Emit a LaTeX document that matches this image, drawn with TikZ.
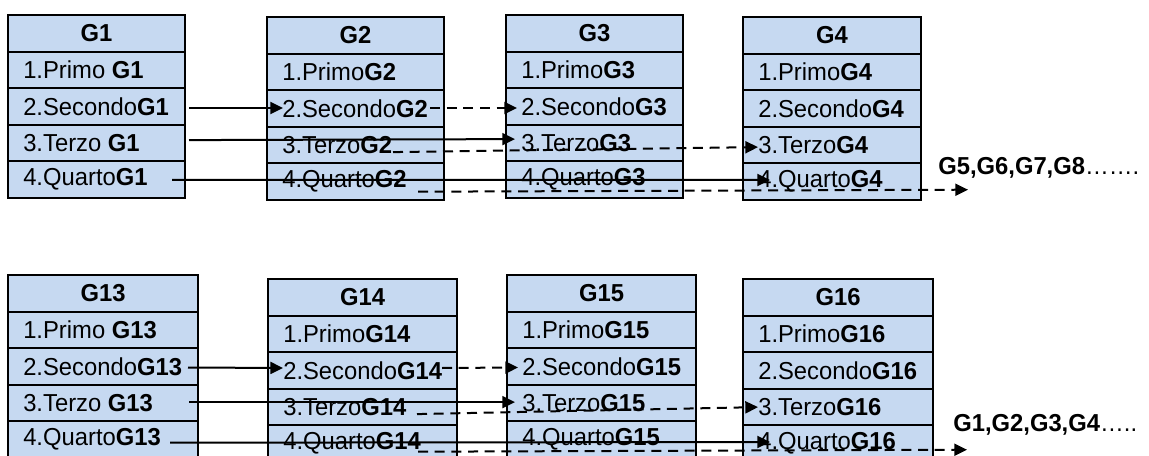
\documentclass[tikz,border=0pt]{standalone}
\usepackage{fontspec}
\setmainfont[FakeStretch=0.97]{Liberation Sans}
\usetikzlibrary{calc,arrows.meta}
\definecolor{cellblue}{HTML}{C6D9F1}
\newcommand\cellfont{\fontsize{18.4pt}{20pt}\selectfont}
\newcommand\gbox[9]{%
  \node[cell, minimum width=#4*0.75pt, anchor=north west] (#1h) at (#2,#3) {};
  \node[cell, minimum width=#4*0.75pt, anchor=north west] (#1r1) at (#1h.south west) {};
  \node[cell, minimum width=#4*0.75pt, anchor=north west] (#1r2) at (#1r1.south west) {};
  \node[cell, minimum width=#4*0.75pt, anchor=north west] (#1r3) at (#1r2.south west) {};
  \node[cell, minimum width=#4*0.75pt, anchor=north west] (#1r4) at (#1r3.south west) {};
  \node[celltext] (#1ht) at (#1h.center) {\textbf{#5}};
  \node[celltext, anchor=west] (#1t1) at ($(#1r1.west)+(15,0)$) {#6};
  \node[celltext, anchor=west] (#1t2) at ($(#1r2.west)+(15,0)$) {#7};
  \node[celltext, anchor=west] (#1t3) at ($(#1r3.west)+(15,0)$) {#8};
  \node[celltext, anchor=west] (#1t4) at ($(#1r4.west)+(15,0)$) {#9};
}
\begin{document}
\begin{tikzpicture}[x=0.75pt, y=-0.75pt,
  cell/.style={draw=black, fill=cellblue, line width=1.5pt, minimum height=27.45pt, inner sep=0pt, outer sep=0pt},
  celltext/.style={font=\cellfont, inner sep=0pt, text=black},
  sol/.style={line width=1.5pt, -{Triangle[length=9.5pt, width=9pt]}},
  dsh/.style={line width=1.5pt, dash pattern=on 7.5pt off 5pt, -{Triangle[length=9.5pt, width=9pt]}},
  lbl/.style={font=\cellfont, inner sep=0pt, anchor=west}]
\clip (0,0) rectangle (1149,456);
\fill[white] (0,0) rectangle (1149,456);
% top row
\gbox{g1}{8}{15}{177}{G1}{1.Primo \textbf{G1}}{2.Secondo\textbf{G1}}{3.Terzo \textbf{G1}}{4.Quarto\textbf{G1}}
\gbox{g2}{267}{17}{177}{G2}{1.Primo\textbf{G2}}{2.Secondo\textbf{G2}}{3.Terzo\textbf{G2}}{4.Quarto\textbf{G2}}
\gbox{g3}{506}{15}{177}{G3}{1.Primo\textbf{G3}}{2.Secondo\textbf{G3}}{3.Terzo\textbf{G3}}{4.Quarto\textbf{G3}}
\gbox{g4}{743}{17}{178}{G4}{1.Primo\textbf{G4}}{2.Secondo\textbf{G4}}{3.Terzo\textbf{G4}}{4.Quarto\textbf{G4}}
% bottom row
\gbox{g13}{8}{275}{190}{G13}{1.Primo \textbf{G13}}{2.Secondo\textbf{G13}}{3.Terzo \textbf{G13}}{4.Quarto\textbf{G13}}
\gbox{g14}{268}{279}{189}{G14}{1.Primo\textbf{G14}}{2.Secondo\textbf{G14}}{3.Terzo\textbf{G14}}{4.Quarto\textbf{G14}}
\gbox{g15}{507}{275}{189}{G15}{1.Primo\textbf{G15}}{2.Secondo\textbf{G15}}{3.Terzo\textbf{G15}}{4.Quarto\textbf{G15}}
\gbox{g16}{743}{279}{190}{G16}{1.Primo\textbf{G16}}{2.Secondo\textbf{G16}}{3.Terzo\textbf{G16}}{4.Quarto\textbf{G16}}
% labels
\node[lbl] (more1) at (938,168) {\textbf{G5,G6,G7,G8}…….};
\node[lbl] (more2) at (953,425) {\textbf{G1,G2,G3,G4}…..};
% top arrows
\draw[sol] ($(g1r2.east)+(4,1.5)$) -- ($(g2r2.west)+(16,-0.5)$);
\draw[dsh] ($(g2r2.east)+(-14,-0.5)$) -- ($(g3r2.west)+(11,1.5)$);
\draw[sol] ($(g1r3.east)+(4,-3)$) -- ($(g3r3.west)+(9,-4)$);
\draw[dsh] ($(g2r3.west)+(126,7)$) -- ($(g4r3.west)+(15,2)$);
\draw[sol] ($(g1r4.east)+(-13,0.3)$) -- ($(g4r4.west)+(27,-1.7)$);
\draw[dsh] ($(g2r4.west)+(151,10)$) -- ($(g4r4.east)+(47,8)$);
% bottom arrows
\draw[sol] ($(g13r2.east)+(-10,1)$) -- ($(g14r2.west)+(15,-2.5)$);
\draw[dsh] ($(g14r2.east)+(-15,-2.5)$) -- ($(g15r2.west)+(11,1)$);
\draw[sol] ($(g13r3.east)+(-9,-1)$) -- ($(g15r3.west)+(8,-1)$);
\draw[dsh] ($(g14r3.west)+(149,7)$) -- ($(g16r3.west)+(15,0)$);
\draw[sol] ($(g13r4.east)+(-28,3)$) -- ($(g16r4.west)+(27,-1.7)$);
\draw[dsh] ($(g14r4.west)+(150,8)$) -- ($(g16r4.east)+(34,6)$);
\end{tikzpicture}
\end{document}
